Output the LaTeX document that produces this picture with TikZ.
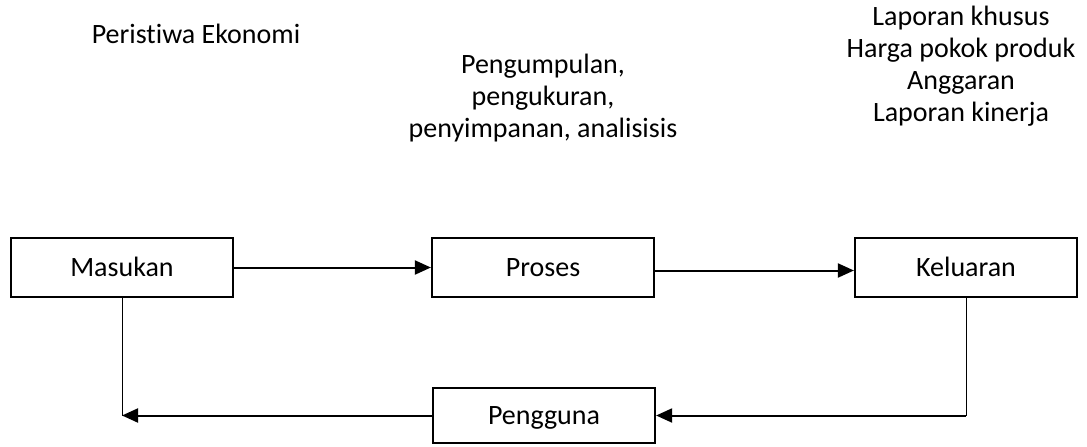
\documentclass[tikz,border=0pt]{standalone}
\usepackage{fontspec}
\setmainfont{Carlito}[Ligatures=NoCommon]
\usetikzlibrary{arrows.meta}
\begin{document}
\begin{tikzpicture}[x=1pt,y=-1pt,
  font=\fontsize{28}{32}\selectfont,
  box/.style={draw, line width=2.2pt, minimum width=222pt, minimum height=59pt, inner sep=0pt, text height=18pt, text depth=0pt},
  flow/.style={line width=2pt, -{Triangle[length=16pt,width=14pt]}},
  thinline/.style={line width=1pt},
  label/.style={align=center, inner sep=0pt}]
\useasboundingbox (0,0) rectangle (1087,447);
\node[box] (m) at (122,267.5) {Masukan};
\node[box] (p) at (543,267.5) {Proses};
\node[box] (k) at (966,267.5) {Keluaran};
\node[box, minimum height=55pt] (g) at (544,415.5) {Pengguna};
\node[label] (t1) at (196,34) {Peristiwa Ekonomi};
\node[label] (t2) at (543,98) {Pengumpulan,\\pengukuran,\\penyimpanan, analisisis};
\node[label] (t3) at (961,66) {Laporan khusus\\Harga pokok produk\\Anggaran\\Laporan kinerja};
\draw[flow] (m.east) -- (p.west);
\draw[flow] ([yshift=-3pt]p.east) -- ([yshift=-3pt]k.west);
\coordinate (kc) at (k.south |- g.east);
\coordinate (mc) at (m.south |- g.west);
\draw[thinline] (k.south) -- (kc);
\draw[flow] (kc) -- (g.east);
\draw[thinline] (m.south) -- (mc);
\draw[flow] (g.west) -- (mc);
\end{tikzpicture}
\end{document}
